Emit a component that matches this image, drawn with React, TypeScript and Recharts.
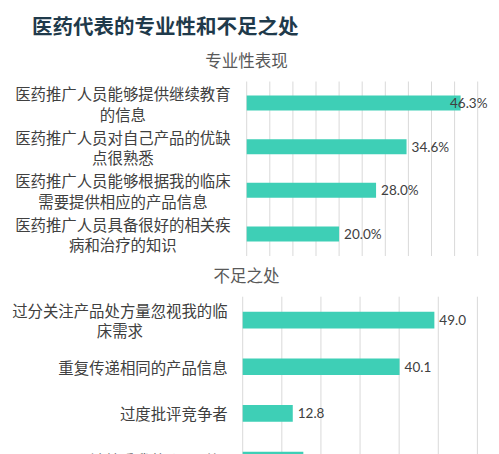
import { BarChart, Bar, XAxis, YAxis, CartesianGrid, LabelList } from 'recharts';

const proCategories = [
  '医药推广人员能够提供继续教育的信息',
  '医药推广人员对自己产品的优缺点很熟悉',
  '医药推广人员能够根据我的临床需要提供相应的产品信息',
  '医药推广人员具备很好的相关疾病和治疗的知识',
];
const proValues = [46.3, 34.6, 28.0, 20.0];
const proTicks = [0, 5, 10, 15, 20, 25, 30, 35, 40, 45, 50];

const weakCategories = [
  '过分关注产品处方量忽视我的临床需求',
  '重复传递相同的产品信息',
  '过度批评竞争者',
  '不够尊重我的个人时间',
];
const weakValues = [49.0, 40.1, 12.8, 15.5];
const weakTicks = [0, 10, 20, 30, 40, 50, 60];

const proData = proCategories.map((name, i) => ({ name, value: proValues[i] }));
const weakData = weakCategories.map((name, i) => ({ name, value: weakValues[i] }));

const BAR = '#3ecfb6';
const GRID = '#d9d9d9';
const TEXT = '#404040';
const CJK = '"Noto Sans CJK SC", "Noto Sans", sans-serif';
const FS = 15.4;
const PER_LINE = 14;

function wrap(s: string) {
  const out: string[] = [];
  for (let i = 0; i < s.length; i += PER_LINE) out.push(s.slice(i, i + PER_LINE));
  return out;
}

function CategoryTick(props: any) {
  const { x, y, payload } = props;
  const lines = wrap(String(payload.value));
  const maxLen = Math.max(...lines.map((l) => l.length));
  const cx = x - (maxLen * FS) / 2;
  const lh = 20.5;
  const start = y - ((lines.length - 1) * lh) / 2;
  return (
    <g>
      {lines.map((l, i) => (
        <text
          key={i}
          x={cx}
          y={start + i * lh}
          textAnchor="middle"
          dominantBaseline="central"
          fill={TEXT}
          fontSize={FS}
          fontFamily={CJK}
        >
          {l}
        </text>
      ))}
    </g>
  );
}

function makeValueLabel(suffix: string, maxX: number) {
  return (props: any) => {
    const { x, y, width, height, value } = props;
    const tx = Math.min(x + width + 5, maxX);
    return (
      <text
        x={tx}
        y={y + height / 2}
        dominantBaseline="central"
        fill={TEXT}
        fontSize={13.5}
        fontFamily="Lato, 'Noto Sans', sans-serif"
      >
        {Number(value).toFixed(1) + suffix}
      </text>
    );
  };
}

const subTitle: React.CSSProperties = {
  position: 'absolute',
  left: 0,
  width: 493,
  textAlign: 'center',
  fontFamily: CJK,
  fontSize: 16.5,
  color: '#595959',
  lineHeight: '20px',
};

export default function App() {
  return (
    <div
      style={{
        position: 'absolute',
        left: 0,
        top: 0,
        width: 499,
        height: 454,
        overflow: 'hidden',
        background: '#fff',
      }}
    >
      <div
        style={{
          position: 'absolute',
          left: 32,
          top: 11,
          fontFamily: CJK,
          fontSize: 20.5,
          fontWeight: 700,
          color: '#1f3a4b',
          lineHeight: '28px',
          whiteSpace: 'nowrap',
        }}
      >
        医药代表的专业性和不足之处
      </div>
      <div style={{ ...subTitle, top: 50 }}>专业性表现</div>
      <div style={{ ...subTitle, top: 265 }}>不足之处</div>

      <div style={{ position: 'absolute', left: 0, top: 0 }}>
        <BarChart
          width={499}
          height={262}
          data={proData}
          layout="vertical"
          margin={{ top: 81.5, right: 21.3, bottom: 6, left: 0 }}
        >
          <CartesianGrid horizontal={false} stroke={GRID} />
          <XAxis type="number" domain={[0, 50]} ticks={proTicks} hide />
          <YAxis
            type="category"
            dataKey="name"
            width={246.7}
            axisLine={false}
            tickLine={false}
            tickSize={0}
            tickMargin={16}
            interval={0}
            tick={<CategoryTick />}
          />
          <Bar dataKey="value" fill={BAR} barSize={15} isAnimationActive={false}>
            <LabelList dataKey="value" content={makeValueLabel('%', 450)} />
          </Bar>
        </BarChart>
      </div>

      <div style={{ position: 'absolute', left: 0, top: 270 }}>
        <BarChart
          width={499}
          height={220}
          data={weakData}
          layout="vertical"
          margin={{ top: 26.7, right: 21.6, bottom: 6.6, left: 0 }}
        >
          <CartesianGrid horizontal={false} stroke={GRID} />
          <XAxis type="number" domain={[0, 60]} ticks={weakTicks} hide />
          <YAxis
            type="category"
            dataKey="name"
            width={242.7}
            axisLine={false}
            tickLine={false}
            tickSize={0}
            tickMargin={15}
            interval={0}
            tick={<CategoryTick />}
          />
          <Bar dataKey="value" fill={BAR} barSize={16.7} isAnimationActive={false}>
            <LabelList dataKey="value" content={makeValueLabel('', 480)} />
          </Bar>
        </BarChart>
      </div>
    </div>
  );
}
